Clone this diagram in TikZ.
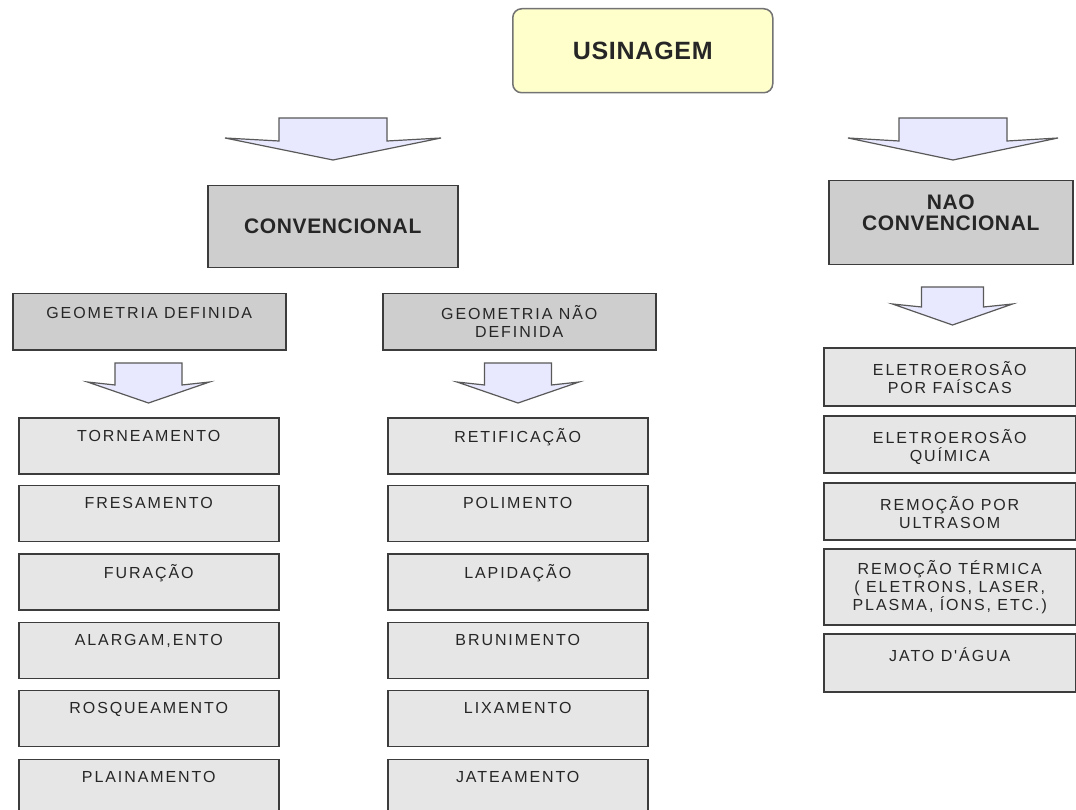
\documentclass[tikz,border=0pt]{standalone}
\usepackage{fontspec}
\setmainfont{Liberation Sans}
\newfontfamily\listfam[LetterSpace=12]{Liberation Sans}
\newfontfamily\headfam[LetterSpace=3]{Liberation Sans}
\definecolor{bordercol}{HTML}{3C3C3C}
\definecolor{textcol}{HTML}{262626}
\definecolor{listfill}{HTML}{E6E6E6}
\definecolor{headfill}{HTML}{CECECE}
\definecolor{topfill}{HTML}{FFFFCC}
\definecolor{arrowfill}{HTML}{E8E8FF}
\newcommand\tb[4]{\parbox[c][#1][t]{#2}{\lineskiplimit=-100pt\centering\vspace*{#3}\strut #4\par}}
\newcommand\blockarrow[6]{%
  \draw[blockarr] ({#1-#3},{#2}) -- ({#1+#3},{#2}) -- ({#1+#3},{#5}) -- ({#1+#4},{#5-3})
    -- ({#1},{#6}) -- ({#1-#4},{#5-3}) -- ({#1-#3},{#5}) -- cycle;}
\tikzset{
  listbox/.style={draw=bordercol, line width=1.5pt, fill=listfill, inner sep=0pt,
    anchor=north west, text=textcol, font=\listfam\fontsize{16}{18}\selectfont},
  geobox/.style={listbox, fill=headfill},
  headbox/.style={draw=bordercol, line width=1.5pt, fill=headfill, inner sep=0pt,
    anchor=north west, text=textcol, font=\headfam\bfseries\fontsize{21}{21}\selectfont},
  topbox/.style={draw=black!55, line width=1.5pt, fill=topfill, rounded corners=9pt,
    inner sep=0pt, anchor=north west, text=textcol,
    font=\headfam\bfseries\fontsize{25}{25}\selectfont},
  blockarr/.style={draw=bordercol!85, line width=1.2pt, fill=arrowfill, line join=miter}
}
\begin{document}
\begin{tikzpicture}[x=1pt,y=-1pt]
\useasboundingbox (0,0) rectangle (1076,810);
\clip (0,0) rectangle (1076,810);
\fill[white] (0,0) rectangle (1076,810);

% top
\node[topbox, minimum width=260pt, minimum height=84pt] (usinagem) at (512,8) {USINAGEM};

% arrows from top
\blockarrow{333}{118}{54}{108}{141}{160}
\blockarrow{953}{118}{54}{105}{141}{160}

% level 1
\node[headbox, minimum width=250pt, minimum height=82pt] (conv) at (207,185) {CONVENCIONAL};
\node[headbox] (naoconv) at (828,180) {\tb{84pt}{244pt}{14.3pt}{NAO\\CONVENCIONAL}};

% level 2
\node[geobox] (geodef) at (12,293) {\tb{56pt}{273pt}{12.1pt}{GEOMETRIA DEFINIDA}};
\node[geobox] (geonao) at (382,293) {\tb{56pt}{273pt}{12.1pt}{GEOMETRIA NÃO\\DEFINIDA}};

\blockarrow{148.5}{363}{33.5}{61}{385}{403}
\blockarrow{518}{363}{33.5}{61}{385}{403}
\blockarrow{952.5}{287}{31}{60}{307}{325}

% left column
\node[listbox] (l1) at (18,417)   {\tb{56pt}{260pt}{11.1pt}{TORNEAMENTO}};
\node[listbox] (l2) at (18,484.5) {\tb{56pt}{260pt}{11.1pt}{FRESAMENTO}};
\node[listbox] (l3) at (18,553)   {\tb{56pt}{260pt}{11.1pt}{FURAÇÃO}};
\node[listbox] (l4) at (18,621.5) {\tb{56pt}{260pt}{11.1pt}{ALARGAM,ENTO}};
\node[listbox] (l5) at (18,689.5) {\tb{56pt}{260pt}{11.1pt}{ROSQUEAMENTO}};
\node[listbox] (l6) at (18,758.5) {\tb{56pt}{260pt}{11.1pt}{PLAINAMENTO}};

% middle column
\node[listbox] (m1) at (387,417)   {\tb{56pt}{260pt}{11.1pt}{RETIFICAÇÃO}};
\node[listbox] (m2) at (387,484.5) {\tb{56pt}{260pt}{11.1pt}{POLIMENTO}};
\node[listbox] (m3) at (387,553)   {\tb{56pt}{260pt}{11.1pt}{LAPIDAÇÃO}};
\node[listbox] (m4) at (387,621.5) {\tb{56pt}{260pt}{11.1pt}{BRUNIMENTO}};
\node[listbox] (m5) at (387,689.5) {\tb{56pt}{260pt}{11.1pt}{LIXAMENTO}};
\node[listbox] (m6) at (387,758.5) {\tb{56pt}{260pt}{11.1pt}{JATEAMENTO}};

% right column
\node[listbox] (r1) at (823,347) {\tb{58pt}{252pt}{14.1pt}{ELETROEROSÃO\\POR FAÍSCAS}};
\node[listbox] (r2) at (823,415) {\tb{57pt}{252pt}{14.1pt}{ELETROEROSÃO\\QUÍMICA}};
\node[listbox] (r3) at (823,482) {\tb{57pt}{252pt}{14.1pt}{REMOÇÃO POR\\ULTRASOM}};
\node[listbox] (r4) at (823,548) {\tb{76pt}{252pt}{12.1pt}{REMOÇÃO TÉRMICA\\( ELETRONS, LASER,\\PLASMA, ÍONS, ETC.)}};
\node[listbox] (r5) at (823,633) {\tb{58pt}{252pt}{14.1pt}{JATO D'ÁGUA}};
\end{tikzpicture}
\end{document}
